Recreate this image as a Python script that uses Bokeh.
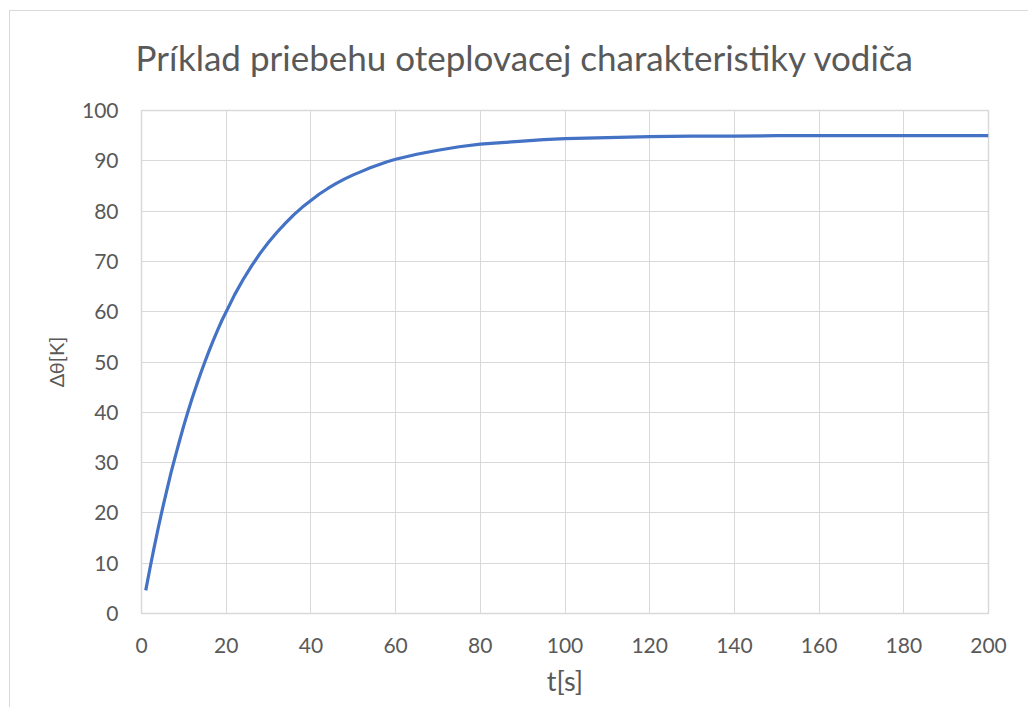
from bokeh.plotting import figure
from bokeh.models import Range1d, FixedTicker
from bokeh.embed import file_html
from bokeh.resources import INLINE

# Data
t_s = [1, 2, 3, 4, 5, 6, 7, 8, 9, 10, 11, 12, 13, 14, 15, 16, 17, 18, 19, 20,
       22, 24, 26, 28, 30, 32, 34, 36, 38, 40, 42, 44, 46, 48, 50, 52, 54, 56, 58, 60,
       65, 70, 75, 80, 85, 90, 95, 100, 110, 120, 130, 140, 150, 160, 170, 180, 190, 200]
delta_theta = [4.6, 9.0, 13.2, 17.2, 21.0, 24.6, 28.1, 31.3, 34.4, 37.4, 40.2, 42.9,
               45.4, 47.8, 50.1, 52.3, 54.4, 56.4, 58.3, 60.0,
               63.4, 66.4, 69.1, 71.6, 73.8, 75.8, 77.6, 79.3, 80.8, 82.1, 83.4, 84.5,
               85.5, 86.4, 87.2, 87.9, 88.6, 89.2, 89.8, 90.3,
               91.3, 92.1, 92.8, 93.3, 93.6, 93.9, 94.2, 94.4, 94.6, 94.8, 94.9, 94.9,
               95.0, 95.0, 95.0, 95.0, 95.0, 95.0]
x_ticks = [0, 20, 40, 60, 80, 100, 120, 140, 160, 180, 200]
y_ticks = [0, 10, 20, 30, 40, 50, 60, 70, 80, 90, 100]

title_text = "Príklad priebehu oteplovacej charakteristiky vodiča"
x_label = "t[s]"
y_label = "Δθ[K]"

TEXT = "#595959"
GRID = "#d9d9d9"
FONT = "Lato"

p = figure(width=1028, height=707, output_backend="svg", toolbar_location=None,
           x_range=Range1d(0, 200), y_range=Range1d(0, 100),
           min_border_left=141, min_border_right=40, min_border_top=109,
           min_border_bottom=94)

p.styles = {
    "background": "linear-gradient(#d9d9d9,#d9d9d9) 9px 10px / 1px 100% no-repeat, "
                  "linear-gradient(#d9d9d9,#d9d9d9) 9px 10px / 100% 1px no-repeat, white"
}

p.title.text = title_text
p.title.text_font = FONT
p.title.text_font_size = "35px"
p.title.text_font_style = "normal"
p.title.text_color = TEXT
p.title.align = "left"
p.title.offset = -6
p.title.standoff = 66

p.line(t_s, delta_theta, line_color="#4472C4", line_width=3.2)

for ax in (p.xaxis[0], p.yaxis[0]):
    ax.axis_line_color = None
    ax.major_tick_line_color = None
    ax.minor_tick_line_color = None
    ax.major_tick_out = 0
    ax.major_tick_in = 0
    ax.minor_tick_out = 0
    ax.major_label_text_font = FONT
    ax.major_label_text_font_size = "21px"
    ax.major_label_text_color = TEXT
    ax.axis_label_text_font = FONT
    ax.axis_label_text_font_style = "normal"
    ax.axis_label_text_color = TEXT

p.xaxis[0].axis_label_text_font_size = "27px"
p.yaxis[0].axis_label_text_font_size = "20px"
p.xaxis[0].ticker = FixedTicker(ticks=x_ticks)
p.yaxis[0].ticker = FixedTicker(ticks=y_ticks)
p.xaxis[0].axis_label = x_label
p.yaxis[0].axis_label = y_label
p.xaxis[0].major_label_standoff = 24
p.yaxis[0].major_label_standoff = 23
p.xaxis[0].axis_label_standoff = 8
p.yaxis[0].axis_label_standoff = 11

p.xgrid.ticker = FixedTicker(ticks=x_ticks)
p.ygrid.ticker = FixedTicker(ticks=y_ticks)
p.grid.grid_line_color = GRID
p.grid.grid_line_width = 1
p.outline_line_color = GRID
p.outline_line_width = 1.5
p.background_fill_color = "white"
p.border_fill_alpha = 0

open("out.html", "w").write(file_html(p, INLINE))
